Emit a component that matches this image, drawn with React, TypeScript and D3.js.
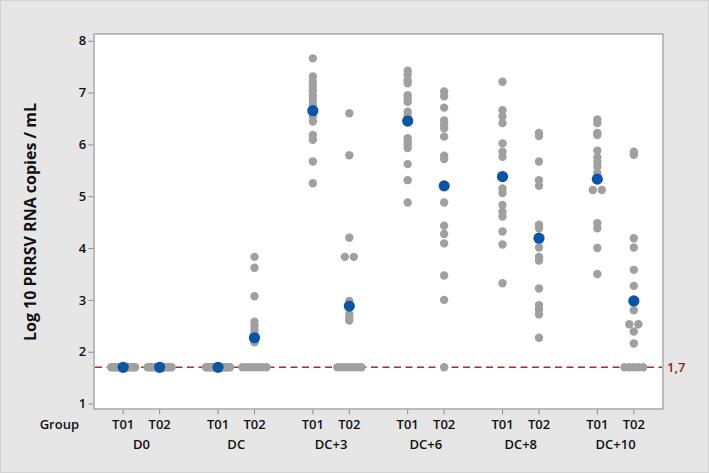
import React, { useEffect, useRef } from 'react';
import * as d3 from 'd3';

// sampling days and treatment groups
const days = ['D0', 'DC', 'DC+3', 'DC+6', 'DC+8', 'DC+10'];
const treatments = ['T01', 'T02'];

// individual animals, log10 copies/mL (1.7 = limit of quantification)
const t01Values: number[][] = [
  [1.7, 1.7, 1.7, 1.7, 1.7, 1.7, 1.7, 1.7, 1.7, 1.7, 1.7, 1.7, 1.7, 1.7, 1.7, 1.7],
  [1.7, 1.7, 1.7, 1.7, 1.7, 1.7, 1.7, 1.7, 1.7, 1.7, 1.7, 1.7, 1.7, 1.7, 1.7, 1.7],
  [7.66, 7.31, 7.22, 7.13, 7.04, 6.95, 6.86, 6.78, 6.7, 6.65, 6.54, 6.44, 6.18, 6.09, 5.67, 5.25],
  [7.42, 7.35, 7.24, 7.18, 6.95, 6.88, 6.82, 6.63, 6.55, 6.12, 6.05, 6.0, 5.93, 5.62, 5.31, 4.88],
  [7.21, 6.66, 6.54, 6.41, 6.02, 5.86, 5.76, 5.4, 5.15, 5.06, 4.83, 4.7, 4.61, 4.32, 4.07, 3.32],
  [6.48, 6.41, 6.22, 6.18, 5.88, 5.75, 5.66, 5.57, 5.45, 5.12, 5.12, 4.48, 4.38, 4.0, 3.5],
];
const t02Values: number[][] = [
  [1.7, 1.7, 1.7, 1.7, 1.7, 1.7, 1.7, 1.7, 1.7, 1.7, 1.7, 1.7, 1.7, 1.7, 1.7, 1.7],
  [3.83, 3.62, 3.07, 2.58, 2.5, 2.42, 2.35, 2.25, 2.18, 1.7, 1.7, 1.7, 1.7, 1.7, 1.7, 1.7],
  [6.6, 5.79, 4.2, 3.83, 3.83, 2.98, 2.9, 2.72, 2.65, 2.6, 1.7, 1.7, 1.7, 1.7, 1.7, 1.7, 1.7],
  [7.02, 6.93, 6.71, 6.46, 6.38, 6.31, 6.15, 5.78, 5.72, 5.2, 4.88, 4.43, 4.27, 4.09, 3.47, 3.0, 1.7],
  [6.22, 6.16, 5.67, 5.31, 5.2, 4.45, 4.38, 4.2, 4.01, 3.83, 3.76, 3.22, 2.9, 2.82, 2.72, 2.27],
  [5.86, 5.8, 4.19, 4.01, 3.58, 3.27, 2.8, 2.53, 2.53, 2.39, 2.16, 1.7, 1.7, 1.7, 1.7, 1.7],
];

// group means (blue)
const t01Means = [1.7, 1.7, 6.65, 6.45, 5.38, 5.33];
const t02Means = [1.7, 2.27, 2.88, 5.2, 4.19, 2.98];

const yTicks = [1, 2, 3, 4, 5, 6, 7, 8];
const lloq = 1.7;
const lloqLabel = '1,7';

const FONT = "'Open Sans', 'Noto Sans', sans-serif";

function App() {
  const svgRef = useRef<SVGSVGElement>(null);

  useEffect(() => {
    const width = 709;
    const height = 473;
    const plot = { left: 94, right: 663, top: 34, bottom: 409 };

    const svg = d3.select(svgRef.current);
    svg.selectAll('*').remove();

    // background
    svg.append('rect')
      .attr('x', 0.5).attr('y', 0.5)
      .attr('width', width - 1).attr('height', height - 1)
      .attr('fill', '#e6e6e6')
      .attr('stroke', '#d2d2d2');

    const x0 = d3.scaleBand().domain(days).range([plot.left, plot.right]).padding(0);
    const x1 = d3.scalePoint().domain(treatments).range([0, x0.bandwidth()]).padding(0.8);
    const y = d3.scaleLinear().domain([0.895, 8.13]).range([plot.bottom, plot.top]);

    const xPos = (day: string, t: string) => (x0(day) ?? 0) + (x1(t) ?? 0);

    // plot area
    svg.append('rect')
      .attr('x', plot.left).attr('y', plot.top)
      .attr('width', plot.right - plot.left).attr('height', plot.bottom - plot.top)
      .attr('fill', '#fff')
      .attr('stroke', '#a9a9a9')
      .attr('stroke-width', 1.5);

    // y axis
    const yAxis = svg.append('g')
      .attr('transform', `translate(${plot.left - 0.75},0)`)
      .call(d3.axisLeft(y).tickValues(yTicks).tickSize(5).tickPadding(2).tickFormat(d3.format('d')));
    yAxis.select('.domain').remove();
    yAxis.selectAll('line').attr('stroke', '#8c8c8c');
    yAxis.selectAll('text')
      .attr('fill', '#111')
      .style('font-family', FONT)
      .style('font-size', '13px')
      .style('font-weight', 600);

    // x ticks and labels
    const cells = days.flatMap(day => treatments.map(t => ({ day, t })));
    svg.selectAll('.xtick')
      .data(cells)
      .join('line')
      .attr('class', 'xtick')
      .attr('x1', d => xPos(d.day, d.t)).attr('x2', d => xPos(d.day, d.t))
      .attr('y1', plot.bottom + 0.75).attr('y2', plot.bottom + 5.5)
      .attr('stroke', '#8c8c8c');

    svg.selectAll('.xlabel')
      .data(cells)
      .join('text')
      .attr('class', 'xlabel')
      .attr('x', d => xPos(d.day, d.t))
      .attr('y', 429)
      .attr('text-anchor', 'middle')
      .style('font-family', FONT)
      .style('font-size', '13px')
      .style('font-weight', 600)
      .attr('fill', '#111')
      .text(d => d.t);

    svg.selectAll('.daylabel')
      .data(days)
      .join('text')
      .attr('class', 'daylabel')
      .attr('x', d => (x0(d) ?? 0) + x0.bandwidth() / 2)
      .attr('y', 449)
      .attr('text-anchor', 'middle')
      .style('font-family', FONT)
      .style('font-size', '13px')
      .style('font-weight', 600)
      .attr('fill', '#111')
      .text(d => d);

    svg.append('text')
      .attr('x', 79).attr('y', 429)
      .attr('text-anchor', 'end')
      .style('font-family', FONT)
      .style('font-size', '13px')
      .style('font-weight', 600)
      .attr('fill', '#111')
      .text('Group');

    // y title
    svg.append('text')
      .attr('transform', 'translate(36,222) rotate(-90)')
      .attr('text-anchor', 'middle')
      .style('font-family', FONT)
      .style('font-size', '16px')
      .style('font-weight', 700)
      .attr('fill', '#111')
      .text('Log 10 PRRSV RNA copies / mL');

    // reference line at the limit
    svg.append('line')
      .attr('x1', plot.left + 1).attr('x2', plot.right - 1)
      .attr('y1', y(lloq)).attr('y2', y(lloq))
      .attr('stroke', '#b3262b')
      .attr('stroke-width', 1.5)
      .attr('stroke-dasharray', '7,4.5');

    svg.append('text')
      .attr('x', plot.right + 4).attr('y', y(lloq) + 5)
      .style('font-family', FONT)
      .style('font-size', '13px')
      .style('font-weight', 600)
      .attr('fill', '#8e1c1c')
      .text(lloqLabel);

    // individual points: exact ties are spread sideways
    const points: { x: number; v: number }[] = [];
    const addColumn = (vals: number[], cx: number) => {
      const ties = d3.group(vals, v => v);
      ties.forEach((arr, v) => {
        const k = arr.length;
        const step = k === 2 ? 9 : k > 1 ? Math.min(4.65, 24 / (k - 1)) : 0;
        arr.forEach((_, i) => points.push({ x: cx + (i - (k - 1) / 2) * step, v }));
      });
    };
    days.forEach((day, i) => {
      addColumn(t01Values[i], xPos(day, 'T01'));
      addColumn(t02Values[i], xPos(day, 'T02'));
    });

    svg.append('g')
      .selectAll('circle')
      .data(points)
      .join('circle')
      .attr('cx', d => d.x)
      .attr('cy', d => y(d.v))
      .attr('r', 4.2)
      .attr('fill', '#a0a0a0');

    const means = days.flatMap((day, i) => [
      { x: xPos(day, 'T01'), v: t01Means[i] },
      { x: xPos(day, 'T02'), v: t02Means[i] },
    ]);

    svg.append('g')
      .selectAll('circle')
      .data(means)
      .join('circle')
      .attr('cx', d => d.x)
      .attr('cy', d => y(d.v))
      .attr('r', 5.6)
      .attr('fill', '#0a56a6');
  }, []);

  return (
    <svg
      ref={svgRef}
      width={709}
      height={473}
      style={{ position: 'absolute', left: 0, top: 0, display: 'block' }}
    />
  );
}

export default App;
